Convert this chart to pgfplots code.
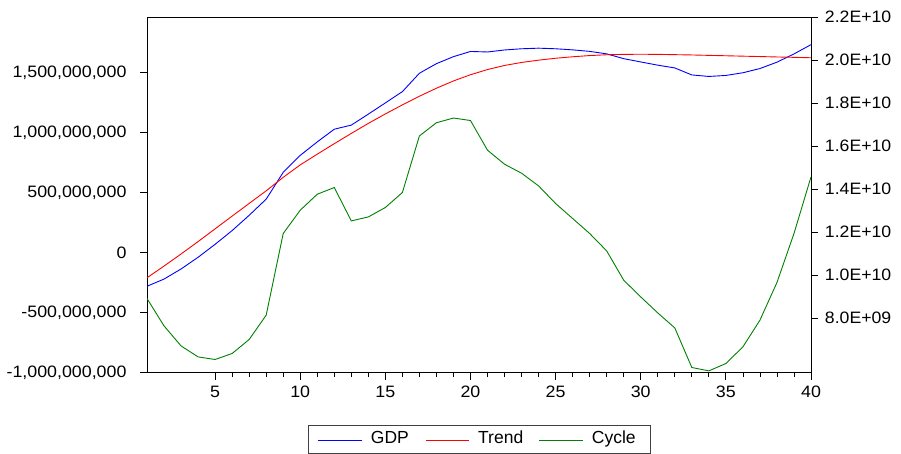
\documentclass[border=0pt]{standalone}
\usepackage{fontspec}
\setmainfont{Liberation Sans}
\usepackage{pgfplots}
\usepackage{pgfplotstable}
\pgfplotsset{compat=1.18}
\definecolor{gdpblue}{RGB}{0,0,255}
\definecolor{trendred}{RGB}{255,0,0}
\definecolor{cyclegreen}{RGB}{0,128,0}

\pgfplotstableread{
x gdp trend cycle
1 9.490e9 9.885e9 -3.817e8
2 9.825e9 10.429e9 -6.100e8
3 10.294e9 10.991e9 -7.767e8
4 10.838e9 11.567e9 -8.683e8
5 11.442e9 12.162e9 -8.900e8
6 12.079e9 12.752e9 -8.400e8
7 12.790e9 13.343e9 -7.233e8
8 13.542e9 13.928e9 -5.208e8
9 14.788e9 14.556e9 1.600e8
10 15.578e9 15.136e9 3.542e8
11 16.205e9 15.634e9 4.875e8
12 16.795e9 16.122e9 5.433e8
13 16.986e9 16.600e9 2.650e8
14 17.497e9 17.065e9 2.983e8
15 18.018e9 17.506e9 3.767e8
16 18.543e9 17.925e9 5.017e8
17 19.398e9 18.329e9 9.733e8
18 19.844e9 18.701e9 1.0833e9
19 20.169e9 19.040e9 1.1225e9
20 20.411e9 19.328e9 1.1017e9
21 20.387e9 19.570e9 8.542e8
22 20.480e9 19.760e9 7.375e8
23 20.536e9 19.900e9 6.625e8
24 20.564e9 20.006e9 5.567e8
25 20.536e9 20.095e9 4.100e8
26 20.485e9 20.164e9 2.850e8
27 20.415e9 20.220e9 1.600e8
28 20.299e9 20.257e9 1.500e7
29 20.076e9 20.276e9 -2.292e8
30 19.923e9 20.281e9 -3.683e8
31 19.774e9 20.276e9 -5.017e8
32 19.644e9 20.262e9 -6.267e8
33 19.319e9 20.248e9 -9.567e8
34 19.249e9 20.229e9 -9.850e8
35 19.295e9 20.211e9 -9.233e8
36 19.421e9 20.192e9 -7.850e8
37 19.616e9 20.174e9 -5.625e8
38 19.913e9 20.155e9 -2.483e8
39 20.295e9 20.137e9 1.600e8
40 20.727e9 20.118e9 6.317e8
}\datatable

\begin{document}
\begin{tikzpicture}
\path[use as bounding box] (0,0) rectangle (901bp,454bp);
\begin{axis}[
  at={(147bp,81.3bp)}, anchor=south west,
  scale only axis, width=664bp, height=355.4bp,
  xmin=1, xmax=40, ymin=-1e9, ymax=1.962e9,
  xtick={5,10,15,20,25,30,35,40},
  xticklabels={5,10,15,20,25,30,35,40},
  minor x tick num=4,
  ytick={-1e9,-5e8,0,5e8,1e9,1.5e9},
  yticklabels={{-1,000,000,000},{-500,000,000},{0},{500,000,000},{1,000,000,000},{1,500,000,000}},
  scaled y ticks=false, scaled x ticks=false,
  xtick pos=bottom, ytick pos=left, tick align=outside,
  major tick length=7bp, minor tick length=4.5bp,
  every tick/.style={black, line width=0.8bp},
  axis line style={line width=0.9bp},
  tick label style={font=\fontsize{16.5bp}{19bp}\selectfont, xscale=1.08},
  yticklabel style={xshift=-9bp},
  xticklabel style={yshift=-3bp},
]
\addplot[color=cyclegreen, line width=0.9bp] table[x=x,y=cycle]{\datatable};
\end{axis}
\begin{axis}[
  at={(147bp,81.3bp)}, anchor=south west,
  scale only axis, width=664bp, height=355.4bp,
  xmin=1, xmax=40, ymin=5.47e9, ymax=2.2e10,
  axis x line=none, axis y line*=right,
  ytick={8e9,1e10,1.2e10,1.4e10,1.6e10,1.8e10,2.0e10,2.2e10},
  yticklabels={8.0E+09,1.0E+10,1.2E+10,1.4E+10,1.6E+10,1.8E+10,2.0E+10,2.2E+10},
  scaled y ticks=false,
  tick align=outside, major tick length=7bp,
  every tick/.style={black, line width=0.8bp},
  axis line style={line width=0.9bp},
  tick label style={font=\fontsize{16.5bp}{19bp}\selectfont, xscale=1.07},
  yticklabel style={xshift=3bp},
]
\addplot[color=gdpblue, line width=0.9bp] table[x=x,y=gdp]{\datatable};
\addplot[color=trendred, line width=0.9bp] table[x=x,y=trend]{\datatable};
\end{axis}
% legend
\draw[black!75, line width=0.8bp] (308.3bp,0.8bp) rectangle (650.7bp,28.3bp);
\draw[gdpblue, line width=1.1bp] (318.3bp,13.5bp) -- (361.7bp,13.5bp);
\draw[trendred, line width=1.1bp] (426bp,13.5bp) -- (469.3bp,13.5bp);
\draw[cyclegreen, line width=1.1bp] (539.3bp,13.5bp) -- (582.7bp,13.5bp);
\begin{scope}[every node/.style={anchor=base west, inner sep=0pt, font=\fontsize{17.5bp}{20bp}\selectfont}]
\node at (370.7bp,10.5bp) {GDP};
\node at (478bp,10.5bp) {Trend};
\node at (591.7bp,10.5bp) {Cycle};
\end{scope}
\end{tikzpicture}
\end{document}
